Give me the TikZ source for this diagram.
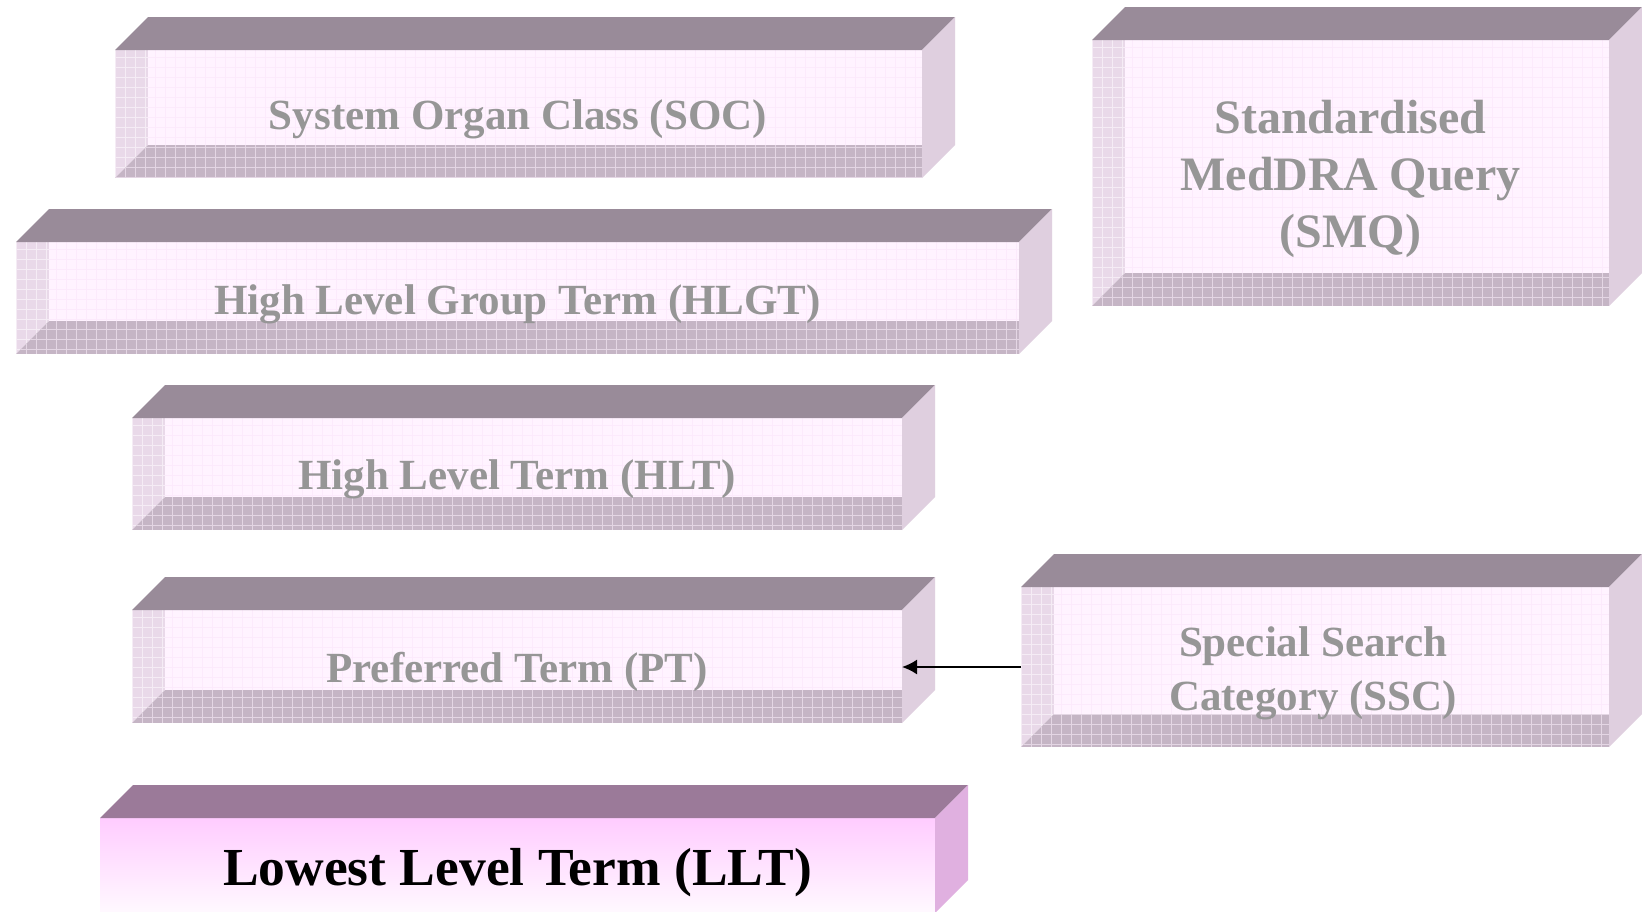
\documentclass[tikz,border=0pt]{standalone}
\usepackage{fontspec}
\setmainfont{Liberation Serif}
\usetikzlibrary{arrows.meta}
\definecolor{topc}{RGB}{153,139,153}
\definecolor{rightc}{RGB}{223,207,223}
\definecolor{frontc}{RGB}{255,243,255}
\definecolor{frontgridc}{RGB}{252,234,252}
\definecolor{leftc}{RGB}{233,217,233}
\definecolor{leftgridc}{RGB}{245,236,245}
\definecolor{botc}{RGB}{197,181,197}
\definecolor{botgridc}{RGB}{228,214,228}
\definecolor{txtc}{RGB}{150,150,150}
\definecolor{lltopc}{RGB}{155,122,153}
\definecolor{llrightc}{RGB}{224,176,224}
\definecolor{llfronttop}{RGB}{255,204,255}
\definecolor{llfrontbot}{RGB}{255,248,255}
\tikzset{
  topface/.style={fill=topc},
  rightface/.style={fill=rightc},
  frontface/.style={fill=frontc},
  leftstrip/.style={fill=leftc},
  botstrip/.style={fill=botc},
  frontgrid/.style={draw=frontgridc, line width=0.8pt},
  leftgrid/.style={draw=leftgridc, line width=1pt},
  botgrid/.style={draw=botgridc, line width=1pt},
  lbl/.style={text=txtc, inner sep=0pt, anchor=base, align=center,
    font=\bfseries\fontsize{43}{54}\selectfont},
  bigl/.style={text=black, inner sep=0pt, anchor=base, align=center,
    font=\bfseries\fontsize{53.5}{60}\selectfont},
  smql/.style={text=txtc, inner sep=0pt, anchor=base, align=center,
    font=\bfseries\fontsize{48}{57}\selectfont},
  conn/.style={-{Latex[length=15pt,width=15pt]}, line width=1.8pt, black},
}
\newcommand\cubebox[4]{%
  \pgfmathsetmacro\cbxa{#1}\pgfmathsetmacro\cbya{#2}%
  \pgfmathsetmacro\cbxb{#3}\pgfmathsetmacro\cbyb{#4}%
  \pgfmathsetmacro\cbxi{#1+33}\pgfmathsetmacro\cbyi{#2+33}%
  \pgfmathsetmacro\cbxj{#3-33}\pgfmathsetmacro\cbyj{#4-33}%
  \pgfmathsetmacro\cbxn{#1+10}\pgfmathsetmacro\cbyn{#2+10}%
  % front face
  \begin{scope}
    \clip (\cbxi,\cbyi) rectangle (\cbxj,\cbyj);
    \fill[frontface] (\cbxi,\cbyi) rectangle (\cbxj,\cbyj);
    \foreach \g in {\cbxa,\cbxn,...,\cbxb} \draw[frontgrid] (\g,\cbya) -- (\g,\cbyb);
    \foreach \g in {\cbya,\cbyn,...,\cbyb} \draw[frontgrid] (\cbxa,\g) -- (\cbxb,\g);
  \end{scope}
  % left strip
  \begin{scope}
    \clip (\cbxa,\cbyi) -- (\cbxi,\cbyi) -- (\cbxi,\cbyj) -- (\cbxa,\cbyb) -- cycle;
    \fill[leftstrip] (\cbxa,\cbyi) rectangle (\cbxi,\cbyb);
    \foreach \g in {\cbxa,\cbxn,...,\cbxi} \draw[leftgrid] (\g,\cbya) -- (\g,\cbyb);
    \foreach \g in {\cbya,\cbyn,...,\cbyb} \draw[leftgrid] (\cbxa,\g) -- (\cbxi,\g);
  \end{scope}
  % bottom strip
  \begin{scope}
    \clip (\cbxa,\cbyb) -- (\cbxi,\cbyj) -- (\cbxj,\cbyj) -- (\cbxj,\cbyb) -- cycle;
    \fill[botstrip] (\cbxa,\cbyj) rectangle (\cbxj,\cbyb);
    \foreach \g in {\cbxa,\cbxn,...,\cbxj} \draw[botgrid] (\g,\cbyj) -- (\g,\cbyb);
    \foreach \g in {\cbya,\cbyn,...,\cbyb} \draw[botgrid] (\cbxa,\g) -- (\cbxj,\g);
  \end{scope}
  % top face
  \fill[topface] (\cbxa,\cbyi) -- (\cbxi,\cbya) -- (\cbxb,\cbya) -- (\cbxj,\cbyi) -- cycle;
  % right face
  \fill[rightface] (\cbxj,\cbyi) -- (\cbxb,\cbya) -- (\cbxb,\cbyj) -- (\cbxj,\cbyb) -- cycle;
}
\begin{document}
\begin{tikzpicture}[x=1pt,y=-1pt]
\useasboundingbox (0,0) rectangle (1642,911);
\clip (0,0) rectangle (1642,911);
\fill[white] (0,0) rectangle (1642,911);

% boxes
\cubebox{115}{17}{955}{178}
\cubebox{16}{209}{1052}{354}
\cubebox{132}{385}{935}{530}
\cubebox{132}{577}{935}{723}
\cubebox{1092}{7}{1642}{306}
\cubebox{1021}{554}{1642}{747}

% lowest level box
\shade[top color=llfronttop, bottom color=llfrontbot] (100,818) rectangle (935,911);
\fill[lltopc] (100,818) -- (133,785) -- (968,785) -- (935,818) -- cycle;
\fill[llrightc] (935,818) -- (968,785) -- (968,880) -- (935,913) -- cycle;

% texts
\node[lbl] (soc) at (518,129) {System Organ Class (SOC)};
\node[lbl] (hlgt) at (517.5,314) {High Level Group Term (HLGT)};
\node[lbl] (hlt) at (517,489) {High Level Term (HLT)};
\node[lbl] (pt) at (517,682) {Preferred Term (PT)};
\node[bigl] (llt) at (517.5,885) {Lowest Level Term (LLT)};
\node[smql] (smq) at (1350.5,247) {Standardised\\MedDRA Query\\(SMQ)};
\node[lbl] (ssc) at (1313,710) {Special Search\\Category (SSC)};

% connector
\coordinate (sscleft) at (1021,667);
\coordinate (ptright) at (902,667);
\draw[conn] (sscleft) -- (ptright);
\end{tikzpicture}
\end{document}
